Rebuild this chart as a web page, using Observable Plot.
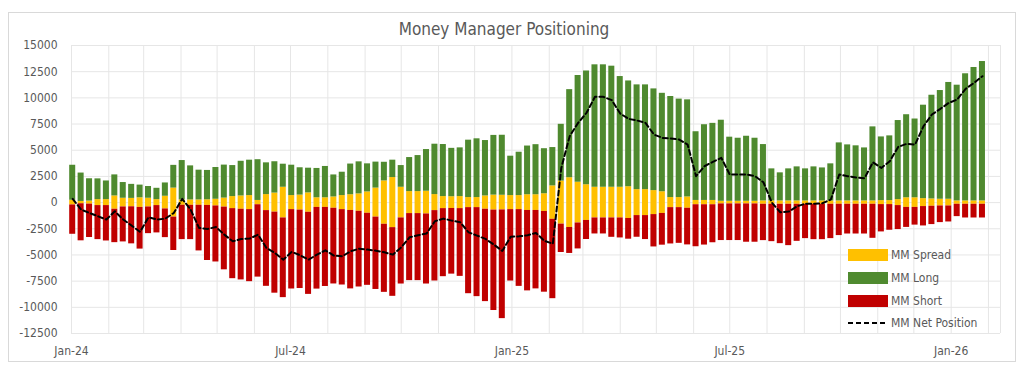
<!DOCTYPE html>
<html><head><meta charset="utf-8">
<script src="https://cdn.jsdelivr.net/npm/d3@7"></script>
<script src="https://cdn.jsdelivr.net/npm/@observablehq/plot@0.6"></script>
<style>
body{margin:0;background:#fff;}
#wrap{position:relative;width:1024px;height:368px;font-family:"Liberation Sans Narrow","DejaVu Sans Condensed",sans-serif;color:#595959;overflow:hidden;}
#chart{position:absolute;left:0;top:0;}
#box{position:absolute;left:8px;top:12px;width:1008px;height:350px;border:1px solid #d9d9d9;box-sizing:border-box;pointer-events:none;}
#title{position:absolute;left:0;width:1008px;top:19px;text-align:center;font-size:17px;color:#595959;}
#legend{position:absolute;left:0;top:0;}
</style></head><body>
<div id="wrap"><div id="chart"></div><div id="box"></div><div id="title">Money Manager Positioning</div>
<svg id="legend" width="1024" height="368"></svg></div>
<script>
const seriesNames = ["MM Spread", "MM Long", "MM Short", "MM Net Position"];
const seriesColors = ["#FFC000", "#4F8A2F", "#C00000", "#000000"];
const xTickLabels = ["Jan-24", "Jul-24", "Jan-25", "Jul-25", "Jan-26"];
const yTicks = [15000, 12500, 10000, 7500, 5000, 2500, 0, -2500, -5000, -7500, -10000, -12500];

const spread = [450,220,290,570,570,1270,830,800,920,830,570,1210,2770,510,510,510,540,640,860,1150,1270,1340,
410,1530,1820,2930,1340,1430,1850,920,920,1080,1340,1500,1660,2040,2770,4140,4780,2930,2100,2100,2170,1530,
1150,1120,1150,960,960,1270,1430,1400,1340,1340,1500,1500,1690,3190,4110,4750,3890,3410,2930,2930,2930,2930,
3030,2480,2480,2290,2070,960,960,1080,410,410,410,250,250,250,250,250,320,320,320,320,320,320,320,320,320,
320,320,320,320,320,380,380,570,920,920,760,700,640,640,320,320,320,320];
const long = [3340,2710,2130,1980,1780,2010,1500,1340,1210,1120,1080,1270,2170,3760,3250,2840,2800,3030,3150,2960,3310,3380,
3890,3030,2990,2200,2900,2610,2360,2800,2990,2100,2230,2930,3060,2680,2480,1780,1660,2070,3250,3440,3980,4810,
4970,4620,4650,5480,5610,5290,5700,5730,3760,4140,4650,4780,4300,3660,5420,8410,10190,10860,11690,11690,11560,10570,
10100,10000,10000,9710,9400,9650,9400,9270,6560,7230,7360,7740,6120,6020,6210,6020,5380,3060,2680,3060,3250,3060,3250,
3150,3540,5540,5350,5260,5060,7070,6080,6180,7550,7930,7520,8920,9900,10380,11150,11050,12140,12740,13310];
const short = [2800,3540,3190,3250,3380,3190,3340,3540,3980,2550,2610,2740,3190,3280,3280,4360,5260,5350,5990,6690,6750,6880,
6910,7230,7740,7610,7580,7490,7840,7800,7550,7230,7200,7490,7230,6880,6910,6500,6560,6310,6400,6400,6690,6720,
6500,6270,6470,8220,8500,8820,9590,10380,6820,7330,7680,7490,7710,7580,2710,2480,2480,1820,1530,1530,1850,1910,
1980,2070,2290,3090,3030,3470,3410,3500,4010,3850,3630,3500,3500,3500,3660,3660,3470,3570,3760,3950,3540,3280,3380,
3380,3280,2990,2840,2840,2840,3250,2610,2450,2290,1910,1690,1850,1750,1590,1530,1180,1310,1310,1310];
const net = [350,-670,-990,-1310,-1620,-830,-1620,-2200,-2800,-1400,-1620,-1530,-990,350,-670,-2420,-2520,-2330,-3060,-3700,-3470,-3440,
-3060,-4330,-4810,-5450,-4710,-5030,-5450,-4970,-4560,-5060,-5130,-4650,-4400,-4490,-4590,-4750,-4970,-4270,-3310,-3120,-2960,-1780,
-1530,-1720,-1880,-2840,-3150,-3470,-4010,-4620,-3250,-3220,-3120,-2900,-3660,-3920,3300,6340,7610,8570,10100,10100,9780,8500,
7990,7840,7610,6500,6180,6120,6020,5540,2520,3470,3890,4270,2680,2680,2680,2520,1940,0,-920,-860,-350,-100,-100,
-60,290,2680,2520,2390,2330,3850,3310,3950,5320,5610,5540,7290,8410,8950,9520,9840,10860,11430,12070];

const weeks = d3.utcTuesday.range(new Date(Date.UTC(2024,0,2)), new Date(Date.UTC(2026,0,28)));
const data = weeks.map((date, i) => ({date, spread: spread[i], long: long[i], short: short[i], net: net[i]}));

const halfBar = 2.5 * 864e5;
const x1 = d => new Date(+d.date - halfBar);
const x2 = d => new Date(+d.date + halfBar);
const monthGrid = d3.utcMonth.range(new Date(Date.UTC(2024,0,1)), new Date(Date.UTC(2026,1,2)));
const labelDates = d3.utcMonth.every(6).range(new Date(Date.UTC(2024,0,1)), new Date(Date.UTC(2026,0,2)));
const labelMap = new Map(labelDates.map((d, i) => [+d, xTickLabels[i]]));

const chart = Plot.plot({
  width: 1024, height: 368,
  marginLeft: 71, marginRight: 24, marginTop: 45, marginBottom: 35,
  style: {background: "transparent", color: "#595959", fontSize: "12px", fontFamily: '"Liberation Sans Narrow","DejaVu Sans Condensed",sans-serif'},
  x: {type: "utc", label: null, domain: [new Date(Date.UTC(2024,0,1)), new Date(Date.UTC(2026,1,11))]},
  y: {label: null, domain: [-12500, 15000]},
  marks: [
    Plot.gridX(monthGrid, {stroke: "#e6e6e6", strokeOpacity: 1}),
    Plot.gridY(yTicks, {stroke: "#e6e6e6", strokeOpacity: 1}),
    Plot.ruleX([new Date(Date.UTC(2026,1,11))], {stroke: "#e6e6e6"}),
    Plot.rectY(data, {x1, x2, y1: d => -d.spread / 2, y2: d => d.spread / 2, fill: seriesColors[0]}),
    Plot.rectY(data, {x1, x2, y1: d => d.spread / 2, y2: d => d.spread / 2 + d.long, fill: seriesColors[1]}),
    Plot.rectY(data, {x1, x2, y1: d => -d.spread / 2, y2: d => -d.spread / 2 - d.short, fill: seriesColors[2]}),
    Plot.line(data, {x: "date", y: "net", stroke: seriesColors[3], strokeWidth: 2, strokeDasharray: "5,3"}),
    Plot.axisY(yTicks, {tickSize: 0, tickPadding: 14, label: null, tickFormat: d => String(d)}),
    Plot.axisX(labelDates, {tickSize: 0, tickPadding: 13, label: null, tickFormat: d => labelMap.get(+d)})
  ]
});
document.getElementById("chart").appendChild(chart);

// legend
const lg = d3.select("#legend");
const rows = [255, 278, 301, 323];
seriesNames.forEach((name, i) => {
  const y = rows[i];
  if (i < 3) {
    lg.append("rect").attr("x", 848).attr("y", y - 6).attr("width", 40).attr("height", 12).attr("fill", seriesColors[i]);
  } else {
    lg.append("line").attr("x1", 848).attr("x2", 888).attr("y1", y).attr("y2", y)
      .attr("stroke", seriesColors[i]).attr("stroke-width", 2).attr("stroke-dasharray", "5,3");
  }
  lg.append("text").attr("x", 891).attr("y", y).attr("dy", "0.35em").attr("fill", "#595959")
    .attr("font-size", 12).attr("font-family", '"Liberation Sans Narrow","DejaVu Sans Condensed",sans-serif').text(name);
});
</script>
</body></html>
